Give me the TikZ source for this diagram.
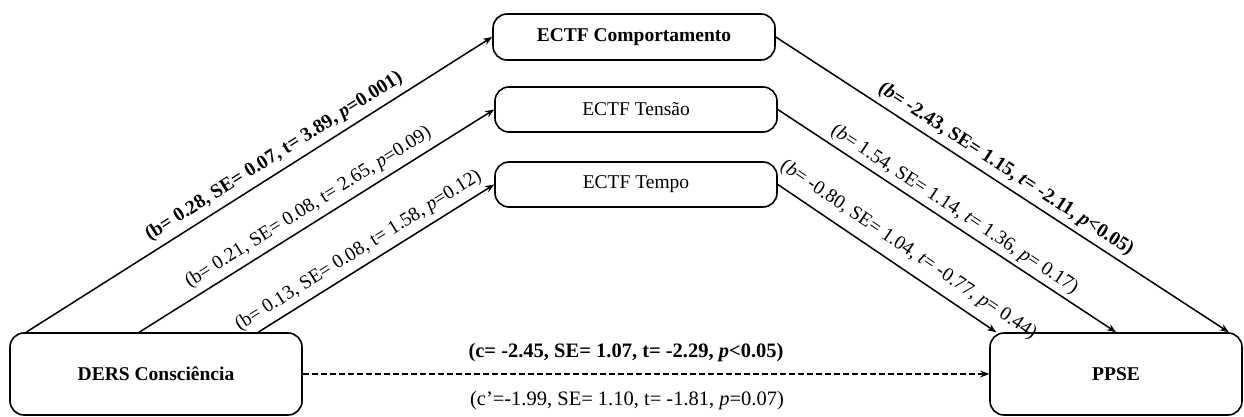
\documentclass[tikz,border=0pt]{standalone}
\usepackage{fontspec}
\setmainfont{Liberation Serif}
\usetikzlibrary{arrows.meta}
\begin{document}
\begin{tikzpicture}[x=1pt,y=-1pt,
  box/.style={draw, line width=1.6pt, rounded corners=14pt, align=center, inner sep=0pt, font=\fontsize{19.5}{22}\selectfont},
  arr/.style={line width=1.5pt, -{Stealth[length=9pt,width=7pt]}},
  lab/.style={font=\fontsize{19.6}{21}\selectfont, sloped, inner sep=2pt},
  hlab/.style={font=\fontsize{20.5}{22}\selectfont, inner sep=0pt},
]
\useasboundingbox (0,0) rectangle (1244,417);
\node[box, minimum width=292pt, minimum height=82pt] (ders) at (156,374) {\bfseries DERS Consciência};
\node[box, minimum width=252pt, minimum height=82pt] (ppse) at (1116,374) {\bfseries PPSE};
\node[box, minimum width=282pt, minimum height=46pt] (comp) at (634,37) {\bfseries ECTF Comportamento};
\node[box, minimum width=282pt, minimum height=45pt] (tens) at (636,109.5) {ECTF Tensão};
\node[box, minimum width=282pt, minimum height=45pt] (temp) at (636,184.5) {ECTF Tempo};

\draw[arr] ([xshift=17pt]ders.north west) -- node[lab, above=4pt, pos=0.55]{\bfseries (b= 0.28, SE= 0.07, t= 3.89, \textit{p}=0.001)} (comp.west);
\draw[arr] ([xshift=130pt]ders.north west) -- node[lab, above=4pt, pos=0.50]{(b= 0.21, SE= 0.08, t= 2.65, \textit{p}=0.09)} (tens.west);
\draw[arr] ([xshift=249pt]ders.north west) -- node[lab, above=4pt, pos=0.46]{(b= 0.13, SE= 0.08, t= 1.58, \textit{p}=0.12)} (temp.west);

\draw[arr] (comp.east) -- node[lab, above=3pt, pos=0.49]{\bfseries (\textit{b}= -2.43, SE= 1.15, \textit{t}= -2.11, \textit{p}<0.05)} ([xshift=-14pt]ppse.north east);
\draw[arr] (tens.east) -- node[lab, above=2pt, pos=0.50]{(\textit{b}= 1.54, SE= 1.14, \textit{t}= 1.36, \textit{p}= 0.17)} (ppse.north);
\draw[arr] (temp.east) -- node[lab, above=7pt, pos=0.55]{(\textit{b}= -0.80, SE= 1.04, \textit{t}= -0.77, \textit{p}= 0.44)} ([xshift=7pt]ppse.north west);

\draw[arr, dash pattern=on 6pt off 3pt] (ders.east) -- (ppse.west);
\node[hlab] (c) at (626,353) {\bfseries (c= -2.45, SE= 1.07, t= -2.29, \textit{p}<0.05)};
\node[hlab] (cp) at (627,401) {(c’=-1.99, SE= 1.10, t= -1.81, \textit{p}=0.07)};
\end{tikzpicture}
\end{document}
